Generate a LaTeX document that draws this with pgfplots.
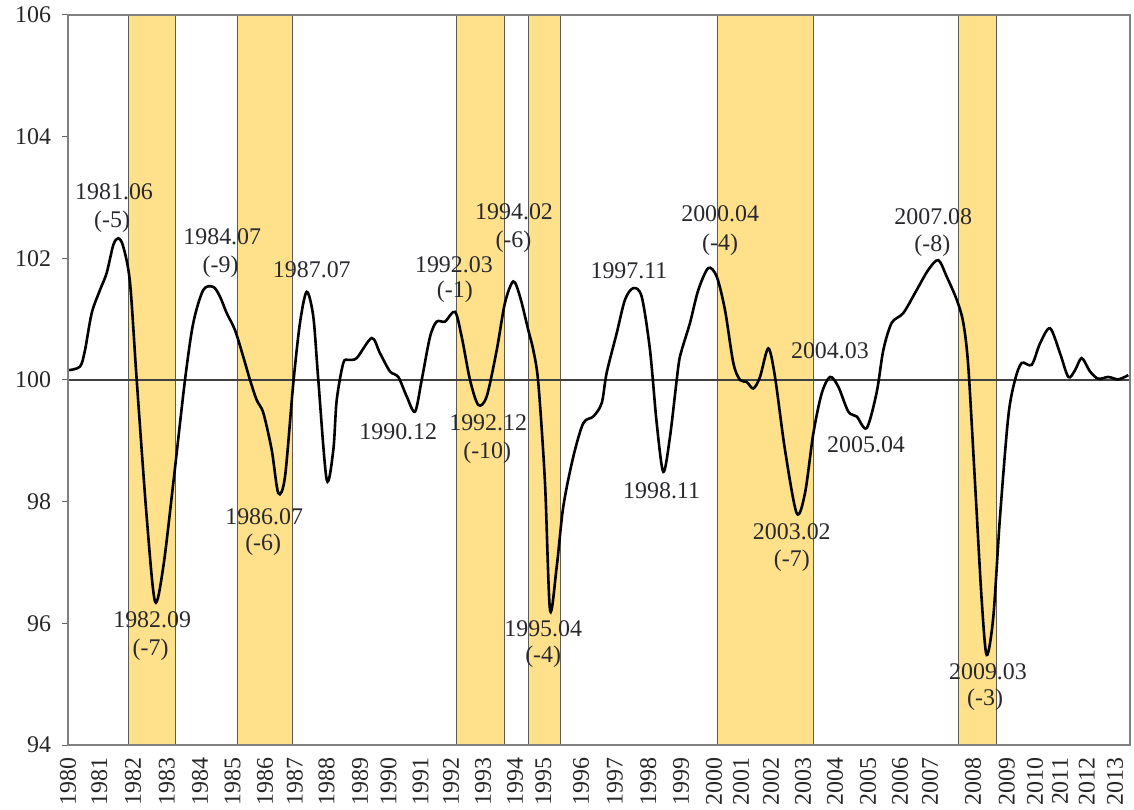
\documentclass[border=0pt]{standalone}
\usepackage{fontspec}
\setmainfont{Liberation Serif}
\usepackage{pgfplots}
\pgfplotsset{compat=1.18}
\definecolor{band}{RGB}{255,225,140}
\definecolor{edge}{RGB}{95,90,80}
\definecolor{txt}{RGB}{40,40,45}

\begin{document}
\begin{tikzpicture}[font=\fontsize{12}{14}\selectfont]
\begin{axis}[
  scale only axis, width=531bp, height=365bp,
  xmin=1980, xmax=2013.1875, ymin=94, ymax=106,
  axis on top,
  ytick={94,96,98,100,102,104,106},
  ytick pos=left, tick align=outside, major tick length=3bp,
  ytick style={black!60, line width=0.5bp},
  yticklabel style={xshift=-2bp, text=black!85},
  /pgf/number format/assume math mode=true,
  /pgf/number format/1000 sep={},
  xtick={1980.0,1980.978,1982.03,1983.09,1984.125,1985.14,1986.156,1987.09,
         1988.078,1989.125,1990.016,1991.016,1991.97,1992.97,1993.97,1994.853,
         1996.03,1997.09,1998.13,1999.16,2000.19,2001.03,2001.97,2002.97,2003.97,
         2005.0,2006.0,2006.94,2008.28,2009.34,2010.22,2011.0,2011.84,2012.72},
  xticklabels={1980,1981,1982,1983,1984,1985,1986,1987,1988,1989,1990,1991,
         1992,1993,1994,1995,1996,1997,1998,1999,2000,2001,2002,2003,2004,2005,
         2006,2007,2008,2009,2010,2011,2012,2013},
  xtick pos=bottom,
  xtick style={draw=none},
  xticklabel style={rotate=90, anchor=east, text=black!85},
  axis line style={draw=black!50, line width=0.6bp},
]
% recession bands
\addplot[fill=band, draw=edge, line width=0.5bp] coordinates {(1981.906,94) (1981.906,106) (1983.344,106) (1983.344,94)} -- cycle;
\addplot[fill=band, draw=edge, line width=0.5bp] coordinates {(1985.303,94) (1985.303,106) (1987.022,106) (1987.022,94)} -- cycle;
\addplot[fill=band, draw=edge, line width=0.5bp] coordinates {(1992.125,94) (1992.125,106) (1993.625,106) (1993.625,94)} -- cycle;
\addplot[fill=band, draw=edge, line width=0.5bp] coordinates {(1994.384,94) (1994.384,106) (1995.406,106) (1995.406,94)} -- cycle;
\addplot[fill=band, draw=edge, line width=0.5bp] coordinates {(2000.291,94) (2000.291,106) (2003.291,106) (2003.291,94)} -- cycle;
\addplot[fill=band, draw=edge, line width=0.5bp] coordinates {(2007.822,94) (2007.822,106) (2009.022,106) (2009.022,94)} -- cycle;

% reference level
\addplot[black!75, line width=0.6bp] coordinates {(1980,100) (2013.1875,100)};

% composite index
\addplot[black, line width=1.3bp, smooth, tension=0.5] coordinates {
(1980.000,100.16) (1980.375,100.22) (1980.531,100.49) (1980.741,101.10)
(1981.000,101.48) (1981.209,101.76) (1981.416,102.22) (1981.572,102.33)
(1981.728,102.19) (1981.938,101.60) (1982.147,100.00) (1982.459,97.75)
(1982.719,96.36) (1982.978,96.93) (1983.291,98.31) (1983.656,100.00)
(1983.916,100.94) (1984.228,101.48) (1984.541,101.53) (1984.750,101.37)
(1984.959,101.10) (1985.219,100.82) (1985.478,100.38) (1985.688,100.00)
(1985.897,99.67) (1986.103,99.46) (1986.366,98.85) (1986.572,98.14)
(1986.781,98.41) (1987.041,99.95) (1987.250,100.94) (1987.459,101.45)
(1987.666,101.04) (1987.822,100.00) (1988.084,98.36) (1988.291,98.85)
(1988.397,99.67) (1988.603,100.28) (1988.759,100.33) (1989.022,100.36)
(1989.491,100.69) (1989.750,100.44) (1990.063,100.14) (1990.322,100.05)
(1990.584,99.73) (1990.844,99.48) (1991.053,100.00) (1991.313,100.71)
(1991.522,100.96) (1991.781,100.96) (1992.094,101.12) (1992.303,100.71)
(1992.563,100.00) (1992.822,99.59) (1993.084,99.73) (1993.397,100.49)
(1993.656,101.27) (1993.916,101.62) (1994.125,101.37) (1994.384,100.82)
(1994.541,100.49) (1994.697,99.95) (1994.906,98.31) (1995.063,96.22)
(1995.272,96.93) (1995.478,97.92) (1995.791,98.74) (1996.103,99.29)
(1996.416,99.40) (1996.678,99.62) (1996.834,100.12) (1997.147,100.77)
(1997.406,101.32) (1997.666,101.51) (1997.928,101.37) (1998.188,100.49)
(1998.397,99.29) (1998.603,98.49) (1998.813,99.07) (1999.072,100.22)
(1999.178,100.49) (1999.438,100.94) (1999.697,101.48) (2000.009,101.84)
(2000.272,101.70) (2000.531,101.15) (2000.791,100.28) (2001.000,100.00)
(2001.209,99.97) (2001.416,99.86) (2001.625,100.05) (2001.884,100.52)
(2002.094,100.05) (2002.406,98.85) (2002.772,97.81) (2003.031,98.14)
(2003.291,99.12) (2003.553,99.78) (2003.813,100.05) (2004.072,99.89)
(2004.384,99.48) (2004.647,99.40) (2004.959,99.21) (2005.272,99.80)
(2005.478,100.49) (2005.741,100.94) (2006.103,101.10) (2006.522,101.48)
(2006.884,101.81) (2007.197,101.97) (2007.459,101.70) (2007.772,101.32)
(2007.978,100.94) (2008.134,100.22) (2008.344,98.31) (2008.553,96.38)
(2008.709,95.48) (2008.916,96.11) (2009.125,97.75) (2009.384,99.40)
(2009.594,100.00) (2009.803,100.28) (2010.116,100.25) (2010.375,100.60)
(2010.688,100.85) (2011.000,100.44) (2011.259,100.05) (2011.469,100.16)
(2011.678,100.36) (2011.938,100.14) (2012.197,100.02) (2012.509,100.05)
(2012.822,100.01) (2013.134,100.08)
};

% turning-point annotations
\begin{scope}[every node/.style={text=txt, inner sep=0pt}]
\node at (axis cs:1981.44,103.10) {1981.06};
\node at (axis cs:1981.38,102.60) {(-5)};
\node at (axis cs:1982.63,96.06) {1982.09};
\node at (axis cs:1982.58,95.56) {(-7)};
\node at (axis cs:1984.82,102.36) {1984.07};
\node at (axis cs:1984.77,101.86) {(-9)};
\node at (axis cs:1986.13,97.75) {1986.07};
\node at (axis cs:1986.10,97.29) {(-6)};
\node at (axis cs:1987.62,101.81) {1987.07};
\node at (axis cs:1990.32,99.15) {1990.12};
\node at (axis cs:1992.06,101.89) {1992.03};
\node at (axis cs:1992.09,101.45) {(-1)};
\node at (axis cs:1993.13,99.29) {1992.12};
\node at (axis cs:1993.10,98.81) {(-10)};
\node at (axis cs:1993.94,102.77) {1994.02};
\node at (axis cs:1993.92,102.27) {(-6)};
\node at (axis cs:1994.85,95.91) {1995.04};
\node at (axis cs:1994.85,95.45) {(-4)};
\node at (axis cs:1997.53,101.80) {1997.11};
\node at (axis cs:1998.55,98.18) {1998.11};
\node at (axis cs:2000.38,102.73) {2000.04};
\node at (axis cs:2000.38,102.22) {(-4)};
\node at (axis cs:2002.62,97.51) {2003.02};
\node at (axis cs:2002.62,97.03) {(-7)};
\node at (axis cs:2003.81,100.48) {2004.03};
\node at (axis cs:2004.94,98.93) {2005.04};
\node at (axis cs:2007.04,102.69) {2007.08};
\node at (axis cs:2007.01,102.21) {(-8)};
\node at (axis cs:2008.75,95.20) {2009.03};
\node at (axis cs:2008.66,94.74) {(-3)};
\end{scope}
\end{axis}
\pgfresetboundingbox
\path ([xshift=-34bp,yshift=-32.5bp]current axis.south west) rectangle ([xshift=2bp,yshift=7.5bp]current axis.north east);
\end{tikzpicture}
\end{document}
